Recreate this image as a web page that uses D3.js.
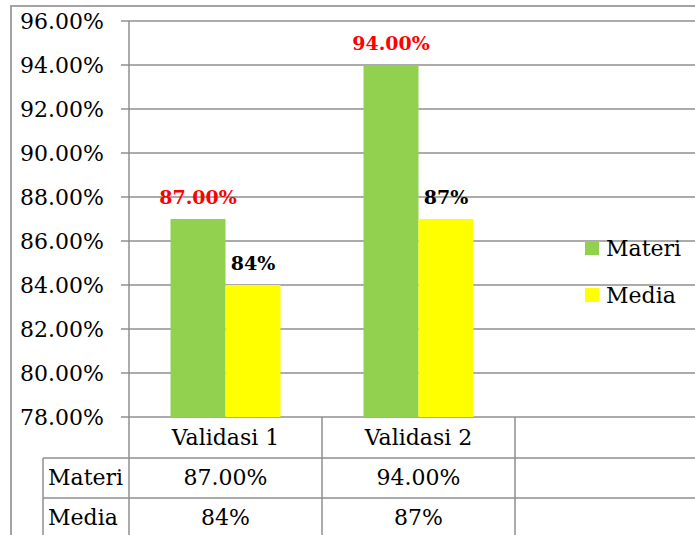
<!doctype html>
<html>
<head>
  <meta charset="utf-8">
  <script src="https://d3js.org/d3.v7.min.js"></script>
  <style>
    body { margin: 0; background: #fff; }
    svg { display: block; font-family: "DejaVu Serif", serif; }
    .grid line { stroke: #8f8f8f; stroke-width: 1.5; }
    .tick-label { font-size: 22px; fill: #000; }
    .cell { font-size: 22px; fill: #000; }
    .value-label { font-size: 19px; font-weight: bold; }
  </style>
</head>
<body>
<script>
  var categories = ["Validasi 1", "Validasi 2"];
  var seriesNames = ["Materi", "Media"];
  var materi = [0.87, 0.94];
  var media = [0.84, 0.87];
  var materiText = ["87.00%", "94.00%"];
  var mediaText = ["84%", "87%"];
  var yTicks = [0.78, 0.80, 0.82, 0.84, 0.86, 0.88, 0.90, 0.92, 0.94, 0.96];
  var colors = ["#92d050", "#ffff00"];
  var labelColors = ["#ff0000", "#000000"];

  var width = 695, height = 535;

  var svg = d3.select("body").append("svg")
    .attr("width", width)
    .attr("height", height);

  // plot area
  var plotLeft = 129, plotTop = 21, plotBottom = 417;
  var step = 193;

  var x = d3.scaleBand()
    .domain(categories.concat([""]))
    .range([plotLeft, plotLeft + step * 3])
    .padding(0);

  var xSub = d3.scaleBand()
    .domain(seriesNames)
    .range([0, x.bandwidth()])
    .paddingInner(0)
    .paddingOuter(0.755);

  var y = d3.scaleLinear()
    .domain([0.78, 0.96])
    .range([plotBottom, plotTop]);

  // outer frame
  svg.append("path")
    .attr("d", "M11," + height + "V6H" + width)
    .attr("fill", "none")
    .attr("stroke", "#a3a3a3")
    .attr("stroke-width", 2);

  // gridlines + ticks
  var grid = svg.append("g").attr("class", "grid");
  grid.selectAll("line")
    .data(yTicks)
    .join("line")
    .attr("x1", plotLeft - 8)
    .attr("x2", width)
    .attr("y1", function (d) { return y(d); })
    .attr("y2", function (d) { return y(d); });

  svg.append("g").selectAll("text")
    .data(yTicks)
    .join("text")
    .attr("class", "tick-label")
    .attr("x", 104)
    .attr("y", function (d) { return y(d); })
    .attr("dy", "0.36em")
    .attr("text-anchor", "end")
    .text(d3.format(".2%"));

  // bars
  var series = [materi, media];
  var texts = [materiText, mediaText];
  var bars = svg.append("g");
  series.forEach(function (vals, s) {
    bars.selectAll(".bar-" + s)
      .data(vals)
      .join("rect")
      .attr("class", "bar-" + s)
      .attr("x", function (d, i) { return x(categories[i]) + xSub(seriesNames[s]); })
      .attr("width", xSub.bandwidth())
      .attr("y", function (d) { return y(d); })
      .attr("height", function (d) { return y.range()[0] - y(d); })
      .attr("fill", colors[s]);

    bars.selectAll(".lbl-" + s)
      .data(vals)
      .join("text")
      .attr("class", "value-label lbl-" + s)
      .attr("x", function (d, i) { return x(categories[i]) + xSub(seriesNames[s]) + xSub.bandwidth() / 2; })
      .attr("y", function (d) { return y(d) - 15; })
      .attr("text-anchor", "middle")
      .attr("fill", labelColors[s])
      .text(function (d, i) { return texts[s][i]; });
  });

  // axis line (plot left edge)
  var axisG = svg.append("g").attr("class", "grid");
  axisG.append("line")
    .attr("x1", plotLeft).attr("x2", plotLeft)
    .attr("y1", plotTop).attr("y2", height);

  // data table under the axis
  var rowTop = [plotBottom, 458, 498];
  var rowBottom = [458, 498, 538];
  var tableLeft = 43;

  axisG.selectAll(".hrow")
    .data(rowTop.slice(1))
    .join("line")
    .attr("x1", tableLeft).attr("x2", width)
    .attr("y1", function (d) { return d; })
    .attr("y2", function (d) { return d; });

  axisG.append("line")
    .attr("x1", tableLeft).attr("x2", tableLeft)
    .attr("y1", rowTop[1]).attr("y2", height);

  axisG.selectAll(".vcol")
    .data(categories)
    .join("line")
    .attr("x1", function (d) { return x(d) + x.bandwidth(); })
    .attr("x2", function (d) { return x(d) + x.bandwidth(); })
    .attr("y1", plotBottom).attr("y2", height);

  var table = svg.append("g");
  table.selectAll(".head")
    .data(categories)
    .join("text")
    .attr("class", "cell")
    .attr("x", function (d) { return x(d) + x.bandwidth() / 2; })
    .attr("y", (rowTop[0] + rowBottom[0]) / 2)
    .attr("dy", "0.36em")
    .attr("text-anchor", "middle")
    .text(function (d) { return d; });

  seriesNames.forEach(function (name, s) {
    var cy = (rowTop[s + 1] + rowBottom[s + 1]) / 2 - 1;
    table.append("text")
      .attr("class", "cell")
      .attr("x", tableLeft + 5)
      .attr("y", cy)
      .attr("dy", "0.36em")
      .text(name);
    table.selectAll(".v" + s)
      .data(categories)
      .join("text")
      .attr("class", "cell v" + s)
      .attr("x", function (d) { return x(d) + x.bandwidth() / 2; })
      .attr("y", cy)
      .attr("dy", "0.36em")
      .attr("text-anchor", "middle")
      .text(function (d, i) { return texts[s][i]; });
  });

  // legend
  var legend = svg.append("g").attr("transform", "translate(585,248)");
  var item = legend.selectAll("g")
    .data(seriesNames)
    .join("g")
    .attr("transform", function (d, i) { return "translate(0," + i * 47 + ")"; });
  item.append("rect")
    .attr("x", 0).attr("y", -7)
    .attr("width", 14).attr("height", 14)
    .attr("fill", function (d, i) { return colors[i]; });
  item.append("text")
    .attr("class", "cell")
    .attr("x", 21)
    .attr("y", 0)
    .attr("dy", "0.36em")
    .text(function (d) { return d; });
</script>
</body>
</html>
